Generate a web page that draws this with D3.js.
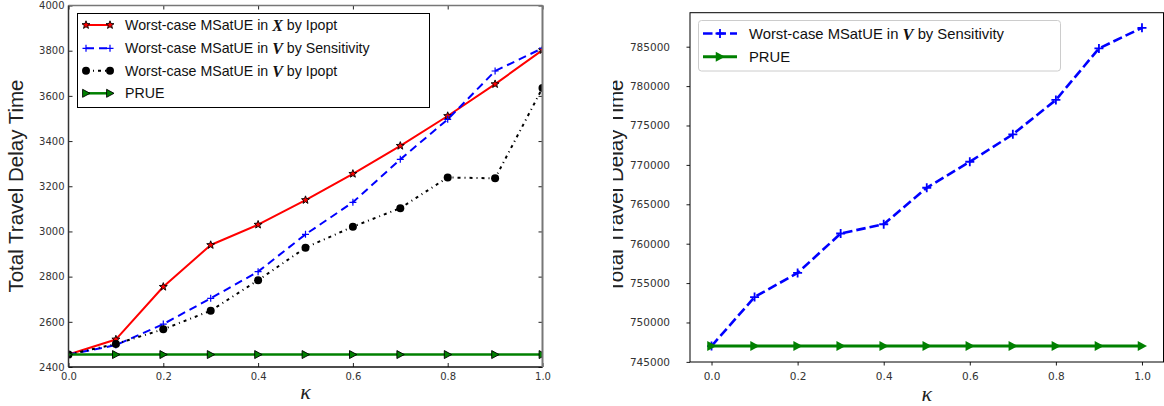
<!DOCTYPE html>
<html><head><meta charset="utf-8">
<script src="https://cdn.jsdelivr.net/npm/d3@7"></script>
<style>body{margin:0;background:#fff} svg{display:block}</style>
</head><body>
<svg id="c" width="1164" height="406"></svg>
<script>
// ---------- data ----------
const kappa = [0.0,0.1,0.2,0.3,0.4,0.5,0.6,0.7,0.8,0.9,1.0];
const leftXIpopt   = [2455,2522,2755,2940,3030,3139,3255,3379,3511,3652,3803];
const leftVSens    = [2455,2497,2590,2704,2822,2987,3129,3319,3496,3710,3811];
const leftVIpopt   = [2455,2502,2567,2649,2784,2928,3021,3103,3239,3235,3635];
const leftPRUE     = [2455,2455,2455,2455,2455,2455,2455,2455,2455,2455,2455];
const rightVSens   = [747000,753230,756290,761290,762470,767100,770400,773880,778240,784780,787400];
const rightPRUE    = [747000,747000,747000,747000,747000,747000,747000,747000,747000,747000,747000];
const xTickVals    = [0.0,0.2,0.4,0.6,0.8,1.0];
const leftYTicks   = [2400,2600,2800,3000,3200,3400,3600,3800,4000];
const rightYTicks  = [745000,750000,755000,760000,765000,770000,775000,780000,785000];
const leftLabels   = ["Worst-case MSatUE in |X| by Ipopt","Worst-case MSatUE in |V| by Sensitivity","Worst-case MSatUE in |V| by Ipopt","PRUE"];
const rightLabels  = ["Worst-case MSatUE in |V| by Sensitivity","PRUE"];
const yTitle = "Total Travel Delay Time";
const xTitle = "κ";

// ---------- helpers ----------
const svg = d3.select("#c");
const SANS = "'Liberation Sans', Arial, sans-serif";
const TICKF = "'DejaVu Sans', sans-serif";
const KAPPAF = "'Liberation Serif', serif";

function starPath(R, r){
  let p=[];
  for(let i=0;i<10;i++){
    const a = -Math.PI/2 + i*Math.PI/5;
    const rad = i%2===0 ? R : r;
    p.push([rad*Math.cos(a), rad*Math.sin(a)]);
  }
  return "M"+p.map(d=>d.join(",")).join("L")+"Z";
}
function drawMarker(g, type, x, y, o){
  if(type==="star"){
    g.append("path").attr("d",starPath(o.size,o.size*0.42)).attr("transform",`translate(${x},${y})`)
      .attr("fill",o.fill).attr("stroke",o.edge).attr("stroke-width",o.ew||1);
  } else if(type==="plus"){
    const s=o.size;
    g.append("path").attr("d",`M${-s},0H${s}M0,${-s}V${s}`).attr("transform",`translate(${x},${y})`)
      .attr("fill","none").attr("stroke",o.fill).attr("stroke-width",o.ew||1.5);
  } else if(type==="circle"){
    g.append("circle").attr("cx",x).attr("cy",y).attr("r",o.size).attr("fill",o.fill)
      .attr("stroke",o.edge||"none").attr("stroke-width",o.ew||0);
  } else if(type==="tri"){
    const s=o.size;
    g.append("path").attr("d",`M${-s*0.85},${-s}L${s},0L${-s*0.85},${s}Z`).attr("transform",`translate(${x},${y})`)
      .attr("fill",o.fill).attr("stroke",o.edge||"none").attr("stroke-width",o.ew||0);
  }
}
function labelText(g, str, x, y, size, mathSize){
  const t = g.append("text").attr("x",x).attr("y",y).attr("font-family",SANS).attr("font-size",size)
    .attr("fill","#111").attr("dominant-baseline","central");
  str.split("|").forEach((part,i)=>{
    if(i%2===1){
      t.append("tspan").text(part).attr("font-family","'Liberation Serif', serif").attr("font-style","italic")
        .attr("font-weight","bold").attr("font-size",mathSize);
    } else t.append("tspan").text(part);
  });
  return t;
}

// =============== LEFT CHART ===============
const L = {x0:68.5, x1:542.5, y0:5.5, y1:367};
const xL = d3.scaleLinear().domain([0,1]).range([L.x0,L.x1]);
const yL = d3.scaleLinear().domain([2400,4000]).range([L.y1,L.y0]);
const defs = svg.append("defs");
const gL = svg.append("g");
defs.append("clipPath").attr("id","clipL").append("rect")
  .attr("x",L.x0).attr("y",L.y0).attr("width",L.x1-L.x0).attr("height",L.y1-L.y0);

const seriesL = [
  {vals:leftXIpopt, color:"#ff0000", w:2, dash:null, m:"star", mo:{size:4.2,fill:"#ff0000",edge:"#000",ew:0.9}},
  {vals:leftVSens,  color:"#0000ff", w:2, dash:"8,5", m:"plus", mo:{size:3.5,fill:"#0000ff",ew:1.2}},
  {vals:leftVIpopt, color:"#000000", w:2, dash:"3,4,1,4", m:"circle", mo:{size:4,fill:"#000"}},
  {vals:leftPRUE,   color:"#008000", w:2.5, dash:null, m:"tri", mo:{size:4,fill:"#008000",edge:"#000",ew:0.9}}
];
const plotL = gL.append("g").attr("clip-path","url(#clipL)");
const lineL = d3.line().x((d,i)=>xL(kappa[i])).y(d=>yL(d));
seriesL.forEach(s=>{
  plotL.append("path").datum(s.vals).attr("d",lineL).attr("fill","none").attr("stroke",s.color)
    .attr("stroke-width",s.w).attr("stroke-dasharray",s.dash).attr("stroke-linejoin","round");
  s.vals.forEach((v,i)=>drawMarker(plotL,s.m,xL(kappa[i]),yL(v),s.mo));
});

// axes (inward ticks)
const fmt1 = d3.format(".1f");
const axL_b = gL.append("g").attr("transform",`translate(0,${L.y1})`)
  .call(d3.axisBottom(xL).tickValues(xTickVals).tickFormat(fmt1).tickSize(-4).tickSizeOuter(0).tickPadding(6));
const axL_t = gL.append("g").attr("transform",`translate(0,${L.y0})`)
  .call(d3.axisTop(xL).tickValues(xTickVals).tickFormat("").tickSize(-4).tickSizeOuter(0));
const axL_l = gL.append("g").attr("transform",`translate(${L.x0},0)`)
  .call(d3.axisLeft(yL).tickValues(leftYTicks).tickFormat(d3.format("d")).tickSize(-4).tickSizeOuter(0).tickPadding(4));
const axL_r = gL.append("g").attr("transform",`translate(${L.x1},0)`)
  .call(d3.axisRight(yL).tickValues(leftYTicks).tickFormat("").tickSize(-4).tickSizeOuter(0));
[axL_b,axL_t,axL_l,axL_r].forEach(a=>{
  a.select(".domain").remove();
  a.selectAll("text").attr("font-family",TICKF).attr("font-size",10).attr("fill","#333");
  a.selectAll("line").attr("stroke","#222");
});
// spines
gL.append("line").attr("x1",L.x0).attr("x2",L.x1).attr("y1",L.y1).attr("y2",L.y1).attr("stroke","#111").attr("stroke-width",1.5);
gL.append("line").attr("x1",L.x0).attr("x2",L.x0).attr("y1",L.y0).attr("y2",L.y1).attr("stroke","#333").attr("stroke-width",1.5);
gL.append("line").attr("x1",L.x0).attr("x2",L.x1).attr("y1",L.y0).attr("y2",L.y0).attr("stroke","#777").attr("stroke-width",1.5);
gL.append("line").attr("x1",L.x1).attr("x2",L.x1).attr("y1",L.y0).attr("y2",L.y1).attr("stroke","#777").attr("stroke-width",2);

// titles
gL.append("text").text(yTitle).attr("transform","translate(23,186) rotate(-90)").attr("text-anchor","middle")
  .attr("font-family",SANS).attr("font-size",20.5).attr("fill","#222");
gL.append("text").text(xTitle).attr("x",(L.x0+L.x1)/2).attr("y",399).attr("text-anchor","middle")
  .attr("font-family",KAPPAF).attr("font-style","italic").attr("font-size",22).attr("fill","#222");

// legend
const lgL = gL.append("g");
lgL.append("rect").attr("x",77.5).attr("y",13.5).attr("width",352).attr("height",94).attr("fill","#fff").attr("stroke","#000").attr("stroke-width",1);
const rowsL = [25,48.3,70.7,93.3];
seriesL.forEach((s,i)=>{
  const y=rowsL[i];
  lgL.append("line").attr("x1",86).attr("x2",110).attr("y1",y).attr("y2",y).attr("stroke",s.color)
    .attr("stroke-width",s.w).attr("stroke-dasharray",s.dash);
  drawMarker(lgL,s.m,86,y,s.mo); drawMarker(lgL,s.m,110,y,s.mo);
  labelText(lgL,leftLabels[i],125,y,14.2,16);
});

// =============== RIGHT CHART ===============
const R = {x0:690, x1:1163.5, y0:12.7, y1:362};
const xR = d3.scaleLinear().domain([-0.05,1.05]).range([R.x0,R.x1]);
const yR = d3.scaleLinear().domain([744985,789315]).range([R.y1,R.y0]);
const gR = svg.append("g");
const seriesR = [
  {vals:rightVSens, color:"#0000ff", w:2.6, dash:"9.5,4", m:"plus", mo:{size:4.5,fill:"#0000ff",ew:1.8}},
  {vals:rightPRUE,  color:"#008000", w:3, dash:null, m:"tri", mo:{size:5,fill:"#008000"}}
];
const lineR = d3.line().x((d,i)=>xR(kappa[i])).y(d=>yR(d));
seriesR.forEach(s=>{
  gR.append("path").datum(s.vals).attr("d",lineR).attr("fill","none").attr("stroke",s.color)
    .attr("stroke-width",s.w).attr("stroke-dasharray",s.dash).attr("stroke-linejoin","round");
  s.vals.forEach((v,i)=>drawMarker(gR,s.m,xR(kappa[i]),yR(v),s.mo));
});
const axR_b = gR.append("g").attr("transform",`translate(0,${R.y1})`)
  .call(d3.axisBottom(xR).tickValues(xTickVals).tickFormat(fmt1).tickSize(3.5).tickSizeOuter(0).tickPadding(7.5));
const axR_l = gR.append("g").attr("transform",`translate(${R.x0},0)`)
  .call(d3.axisLeft(yR).tickValues(rightYTicks).tickFormat(d3.format("d")).tickSize(3.5).tickSizeOuter(0).tickPadding(16.5));
[axR_b,axR_l].forEach(a=>{
  a.select(".domain").remove();
  a.selectAll("text").attr("font-family",TICKF).attr("font-size",10.5).attr("fill","#333");
  a.selectAll("line").attr("stroke","#000").attr("stroke-width",0.9);
});
gR.append("rect").attr("x",R.x0).attr("y",R.y0).attr("width",R.x1-R.x0).attr("height",R.y1-R.y0)
  .attr("fill","none").attr("stroke","#000").attr("stroke-width",1);

defs.append("clipPath").attr("id","clipYR").append("rect").attr("x",613).attr("y",0).attr("width",60).attr("height",406);
gR.append("g").attr("clip-path","url(#clipYR)")
  .append("text").text(yTitle).attr("transform","translate(623,186) rotate(-90)").attr("text-anchor","middle")
  .attr("font-family",SANS).attr("font-size",20.5).attr("fill","#222");
gR.append("text").text(xTitle).attr("x",(R.x0+R.x1)/2).attr("y",401).attr("text-anchor","middle")
  .attr("font-family",KAPPAF).attr("font-style","italic").attr("font-size",22).attr("fill","#222");

const lgR = gR.append("g");
lgR.append("rect").attr("x",698.5).attr("y",20.5).attr("width",362).attr("height",50.5).attr("rx",3)
  .attr("fill","#fff").attr("fill-opacity",0.8).attr("stroke","#ccc").attr("stroke-width",1);
const rowsR = [33.5,56.7];
seriesR.forEach((s,i)=>{
  const y=rowsR[i];
  lgR.append("line").attr("x1",703).attr("x2",737).attr("y1",y).attr("y2",y).attr("stroke",s.color)
    .attr("stroke-width",s.w).attr("stroke-dasharray",s.dash);
  drawMarker(lgR,s.m,720,y,s.mo);
  labelText(lgR,rightLabels[i],749,y,14.8,16.5);
});
</script>
</body></html>
